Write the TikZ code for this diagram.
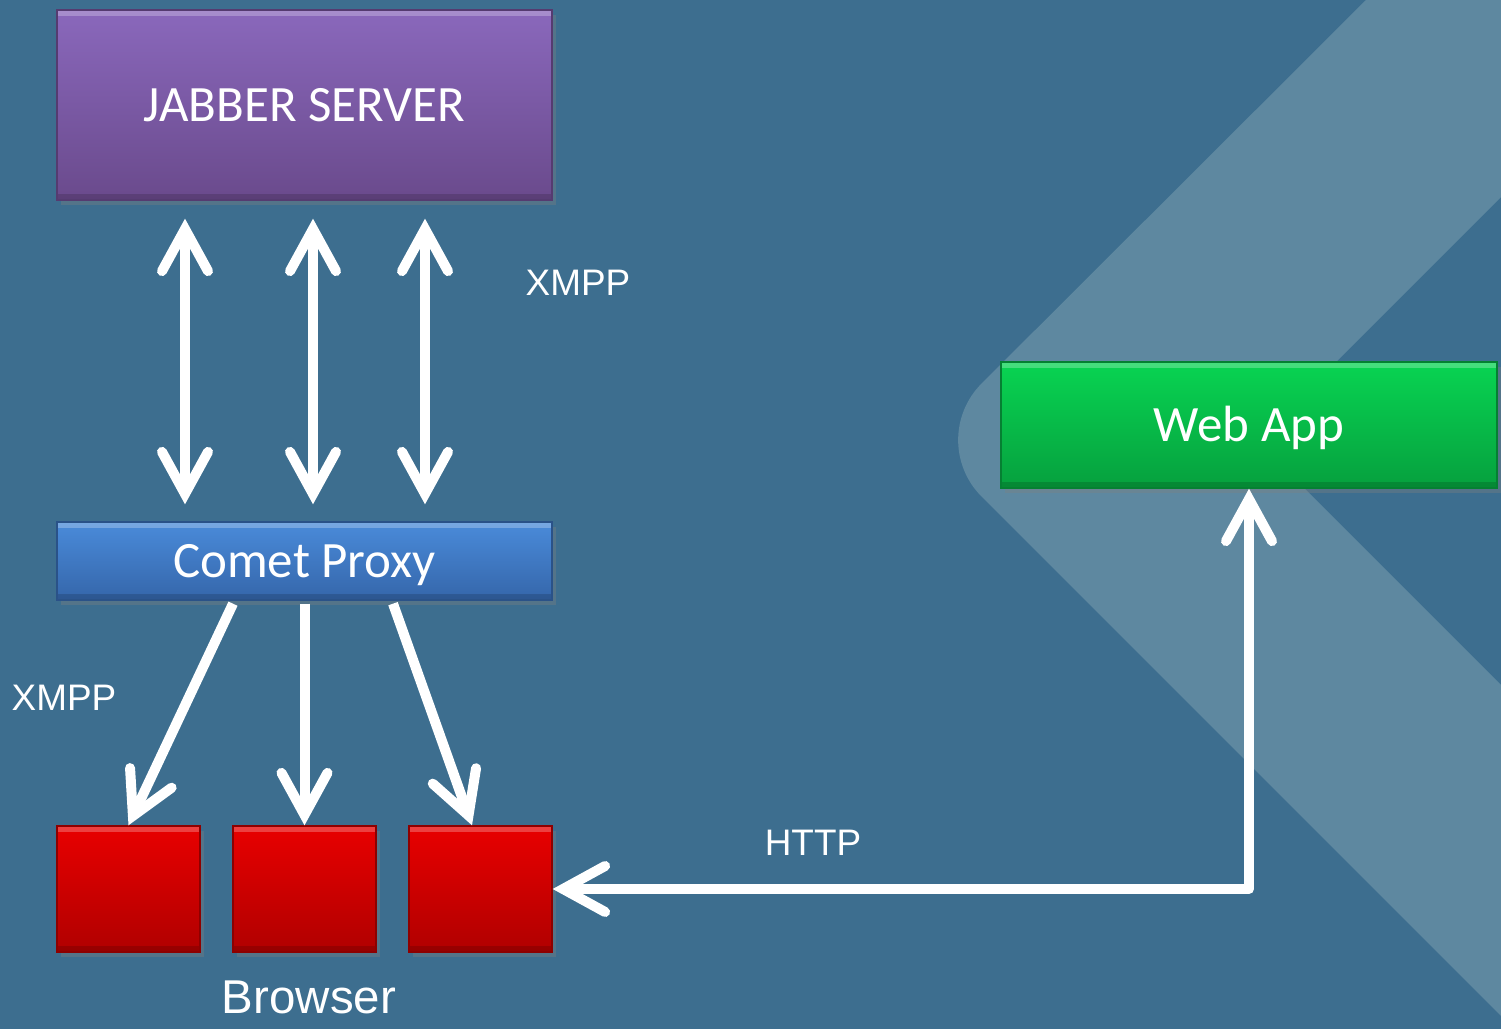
\documentclass[tikz,border=0pt]{standalone}
\usepackage{fontspec}
\setmainfont{Liberation Sans}
\newfontfamily\boxfont{Carlito}
\usepackage{tikz}
\usetikzlibrary{positioning,calc,arrows.meta,shadows}

\definecolor{bgblue}{HTML}{3D6E8F}
\definecolor{bandblue}{HTML}{5E88A0}
\definecolor{purpletop}{HTML}{8A68BC}
\definecolor{purplebot}{HTML}{6A4A8C}
\definecolor{bluetop}{HTML}{4A8BDA}
\definecolor{bluebot}{HTML}{3566AA}
\definecolor{greentop}{HTML}{08D452}
\definecolor{greenbot}{HTML}{06A03E}
\definecolor{redtop}{HTML}{E80000}
\definecolor{redbot}{HTML}{B00000}

\tikzset{
  bevelbox/.style={rectangle, inner sep=0pt, text=white,
    font=\boxfont\fontsize{14.5}{16}\selectfont, text height=9.3pt, text depth=0pt,
    drop shadow={shadow xshift=0.4mm, shadow yshift=-0.5mm, opacity=0.35},
    path picture={\fill[white,opacity=0.25] (path picture bounding box.north west)
      rectangle ([yshift=-0.6mm]path picture bounding box.north east);
      \fill[black,opacity=0.15] (path picture bounding box.south west)
      rectangle ([yshift=0.6mm]path picture bounding box.south east);}},
  serverbox/.style={bevelbox, top color=purpletop, bottom color=purplebot,
    draw=purplebot!80!black, minimum width=4.95cm, minimum height=1.90cm},
  proxybox/.style={bevelbox, top color=bluetop, bottom color=bluebot,
    draw=bluebot!80!black, minimum width=4.95cm, minimum height=0.78cm},
  appbox/.style={bevelbox, top color=greentop, bottom color=greenbot,
    draw=greenbot!80!black, minimum width=4.96cm, minimum height=1.26cm},
  browserbox/.style={bevelbox, top color=redtop, bottom color=redbot,
    draw=redbot!80!black, minimum width=1.43cm, minimum height=1.26cm},
  tag/.style={text=white, font=\fontsize{10.5}{12}\selectfont},
  link/.style={draw=white, line width=1mm, line join=round}
}

\begin{document}
\begin{tikzpicture}[>={Straight Barb[length=4.2mm,width=4.6mm,line cap=round,line join=miter]}]
    \useasboundingbox (0,0) rectangle (15.01,-10.29);
    \begin{scope}
    \clip (0,0) rectangle (15.01,-10.29);
    \fill[bgblue] (0,0) rectangle (15.01,-10.29);
    \fill[bandblue] (13.66,0) [rounded corners=8mm] -- (9.25,-4.40) [sharp corners]
        -- (15.01,-10.16) -- (15.01,-6.85) -- (12.57,-4.41) -- (15.01,-1.97)
        -- (15.01,0) -- cycle;
    \end{scope}

    %Nodes
    \node[serverbox] (jabber) at (3.045,-1.05) {JABBER SERVER};
    \node[proxybox] (proxy) at (3.045,-5.61) {Comet Proxy};
    \node[appbox] (webapp) at (12.49,-4.25) {Web App};
    \node[browserbox] (b1) at (1.285,-8.89) {};
    \node[browserbox] (b2) at (3.045,-8.89) {};
    \node[browserbox] (b3) at (4.805,-8.89) {};

    \node[tag] (xmpptop) at (5.78,-2.83) {XMPP};
    \node[tag] (xmppleft) at (0.64,-6.98) {XMPP};
    \node[tag] (http) at (8.13,-8.43) {HTTP};
    \node[tag, font=\fontsize{13.5}{15}\selectfont] (browser) at (3.09,-9.97) {Browser};

    %Lines
    \draw[link,<->,shorten <=0.18cm,shorten >=0.17cm]
        ([xshift=-1.195cm]jabber.south) -- ([xshift=-1.195cm]proxy.north);
    \draw[link,<->,shorten <=0.18cm,shorten >=0.17cm]
        ([xshift=0.085cm]jabber.south) -- ([xshift=0.085cm]proxy.north);
    \draw[link,<->,shorten <=0.18cm,shorten >=0.17cm]
        ([xshift=1.205cm]jabber.south) -- ([xshift=1.205cm]proxy.north);

    \draw[link,->] ([xshift=-0.715cm,yshift=-0.03cm]proxy.south) -- (b1.north);
    \draw[link,->] ([yshift=-0.03cm]proxy.south) -- (b2.north);
    \draw[link,->] ([xshift=0.885cm,yshift=-0.03cm]proxy.south) -- ([xshift=-0.085cm]b3.north);

    \draw[link,<->] (b3.east) -| (webapp.south);
\end{tikzpicture}
\end{document}
